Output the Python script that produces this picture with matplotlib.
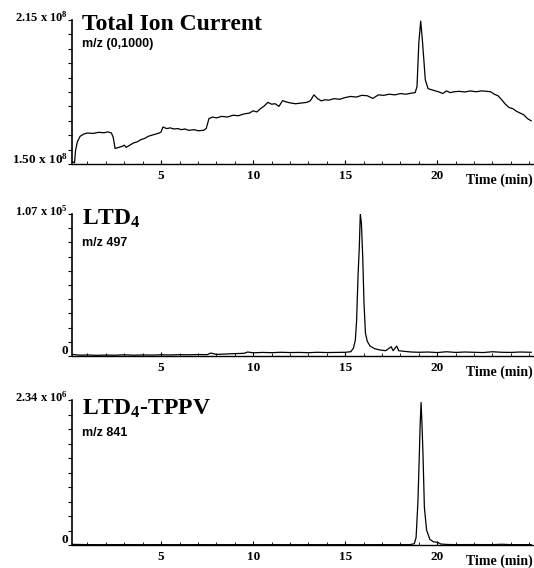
import matplotlib
matplotlib.use("Agg")
import matplotlib.pyplot as plt
from matplotlib.ticker import LinearLocator, MultipleLocator

plt.rcParams['mathtext.default'] = 'regular'

# ---------------- data ----------------
tic_t = [0.2, 0.3, 0.35, 0.45, 0.6, 0.8, 1.0, 1.3, 1.6, 1.9, 2.1, 2.3, 2.4, 2.5, 2.7, 2.9, 3.0,
         3.1, 3.3, 3.5, 3.7, 3.9, 4.1, 4.3, 4.5, 4.7, 4.9, 5.0, 5.1, 5.3, 5.5, 5.7, 5.9, 6.1,
         6.3, 6.5, 6.8, 7.0, 7.3, 7.45, 7.6, 7.8, 8.0, 8.3, 8.6, 8.9, 9.2, 9.5, 9.8, 10.0,
         10.2, 10.4, 10.6, 10.8, 11.0, 11.2, 11.4, 11.6, 11.8, 12.0, 12.3, 12.6, 12.9, 13.1,
         13.3, 13.5, 13.7, 13.9, 14.1, 14.4, 14.7, 15.0, 15.3, 15.6, 15.9, 16.2, 16.5, 16.8,
         17.1, 17.4, 17.7, 18.0, 18.3, 18.6, 18.8, 18.9, 19.0, 19.1, 19.2, 19.35, 19.5, 19.7,
         19.9, 20.1, 20.3, 20.5, 20.7, 20.9, 21.2, 21.5, 21.8, 22.1, 22.4, 22.7, 22.9, 23.1,
         23.3, 23.5, 23.7, 23.9, 24.1, 24.3, 24.5, 24.7, 24.9, 25.1]
tic_v = [1.51, 1.505, 1.56, 1.60, 1.625, 1.635, 1.640, 1.638, 1.643, 1.641, 1.645, 1.640,
         1.620, 1.570, 1.575, 1.580, 1.585, 1.575, 1.585, 1.595, 1.600, 1.610, 1.615, 1.625,
         1.630, 1.635, 1.640, 1.645, 1.667, 1.660, 1.663, 1.658, 1.660, 1.655, 1.658, 1.652,
         1.655, 1.650, 1.652, 1.660, 1.705, 1.712, 1.708, 1.715, 1.712, 1.720, 1.718, 1.726,
         1.730, 1.740, 1.735, 1.750, 1.762, 1.778, 1.770, 1.772, 1.760, 1.786, 1.780, 1.776,
         1.772, 1.775, 1.778, 1.785, 1.812, 1.795, 1.785, 1.790, 1.788, 1.795, 1.792, 1.800,
         1.805, 1.802, 1.810, 1.808, 1.796, 1.812, 1.810, 1.815, 1.812, 1.818, 1.815, 1.820,
         1.822, 1.850, 2.05, 2.145, 2.05, 1.88, 1.84, 1.835, 1.830, 1.825, 1.818, 1.830,
         1.822, 1.826, 1.828, 1.825, 1.830, 1.826, 1.830, 1.828, 1.826, 1.815, 1.808, 1.790,
         1.770, 1.755, 1.750, 1.738, 1.730, 1.722, 1.705, 1.695]

ltd4_t = [0.2, 0.6, 1.0, 1.5, 2.0, 2.5, 3.0, 3.5, 4.0, 4.5, 5.0, 5.5, 6.0, 6.5, 7.0, 7.5,
          7.7, 8.0, 8.5, 9.0, 9.5, 9.7, 10.0, 10.5, 11.0, 11.5, 12.0, 12.5, 13.0, 13.5, 14.0,
          14.5, 15.0, 15.3, 15.45, 15.55, 15.62, 15.7, 15.76, 15.82, 15.88, 15.95, 16.02,
          16.1, 16.2, 16.35, 16.6, 16.9, 17.2, 17.5, 17.6, 17.8, 17.9, 18.2, 18.6, 19.0,
          19.5, 20.0, 20.5, 21.0, 21.5, 22.0, 22.5, 23.0, 23.5, 24.0, 24.5, 25.1]
ltd4_v = [0.012, 0.006, 0.008, 0.005, 0.007, 0.006, 0.009, 0.006, 0.008, 0.007, 0.009,
          0.008, 0.010, 0.009, 0.011, 0.010, 0.022, 0.012, 0.015, 0.018, 0.020, 0.030, 0.024,
          0.027, 0.025, 0.028, 0.026, 0.027, 0.025, 0.028, 0.026, 0.027, 0.028, 0.032, 0.06,
          0.12, 0.27, 0.62, 0.80, 1.07, 1.00, 0.75, 0.40, 0.17, 0.11, 0.075, 0.055, 0.045,
          0.04, 0.07, 0.04, 0.075, 0.04, 0.035, 0.03, 0.028, 0.03, 0.026, 0.032, 0.027, 0.03,
          0.028, 0.026, 0.032, 0.028, 0.027, 0.03, 0.028]

tppv_t = [0.2, 1, 2, 3, 4, 5, 6, 7, 8, 9, 10, 11, 12, 13, 14, 15, 16, 17, 18, 18.5, 18.75,
          18.85, 18.95, 19.02, 19.07, 19.12, 19.17, 19.22, 19.3, 19.42, 19.6, 19.8, 20.0,
          20.2, 20.6, 21, 22, 23, 23.5, 24, 25.1]
tppv_v = [0.01, 0.006, 0.005, 0.007, 0.005, 0.006, 0.005, 0.006, 0.005, 0.006, 0.005,
          0.006, 0.005, 0.006, 0.005, 0.006, 0.005, 0.006, 0.005, 0.006, 0.02, 0.12, 0.7,
          1.40, 1.94, 2.30, 1.95, 1.51, 0.61, 0.24, 0.09, 0.05, 0.045, 0.015, 0.008, 0.006,
          0.007, 0.006, 0.012, 0.006, 0.006]

x_ticks = [5, 10, 15, 20]
panel_titles = ["Total Ion Current", "LTD$_4$", "LTD$_4$-TPPV"]
panel_mz = ["m/z (0,1000)", "m/z 497", "m/z 841"]
y_top_labels = ["2.15 x 10$^8$", "1.07 x 10$^5$", "2.34 x 10$^6$"]
y_bot_labels = ["1.50 x 10$^8$", "0", "0"]
y_ranges = [(1.50, 2.15), (0.0, 1.07), (0.0, 2.34)]

# ---------------- layout ----------------
W, H = 534, 568
fig = plt.figure(figsize=(W / 100, H / 100), dpi=100)

left_px, right_px = 72, 533
panels_px = [(20, 164), (214, 356), (400, 545)]
title_off = [10, 11, 15]
mz_off = [24, 29, 33]
series = [(tic_t, tic_v), (ltd4_t, ltd4_v), (tppv_t, tppv_v)]

serif = "Liberation Serif"
sans = "Liberation Sans"

for i, ((top, bot), (t, v)) in enumerate(zip(panels_px, series)):
    ax = fig.add_axes([left_px / W, 1 - bot / H, (right_px - left_px) / W, (bot - top) / H])
    ax.plot(t, v, color="black", lw=0.9)
    ax.set_xlim(0.16, 25.2)
    ax.set_ylim(*y_ranges[i])
    for s in ["top", "right"]:
        ax.spines[s].set_visible(False)
    ax.spines["left"].set_linewidth(1.2)
    ax.spines["bottom"].set_linewidth(1.0)
    ax.set_yticks([])
    ax.yaxis.set_minor_locator(LinearLocator(11))
    ax.tick_params(axis="y", which="minor", direction="out", length=3, width=0.8)
    ax.set_xticks(x_ticks)
    ax.set_xticklabels([str(x) for x in x_ticks], fontfamily=serif, fontweight="bold",
                       fontsize=9.5)
    ax.tick_params(axis="x", which="major", direction="in", length=3, width=0.8, pad=4)
    ax.xaxis.set_minor_locator(MultipleLocator(1))
    ax.tick_params(axis="x", which="minor", direction="in", length=2, width=0.6)

    # y extreme labels
    fig.text(68 / W, 1 - (top - 3) / H, y_top_labels[i], ha="right", va="center",
             fontfamily=serif, fontweight="bold", fontsize=9)
    fig.text(68 / W, 1 - (bot - 5) / H, y_bot_labels[i], ha="right", va="center",
             fontfamily=serif, fontweight="bold", fontsize=9.5)
    # titles
    fig.text(82 / W, 1 - (top + title_off[i]) / H, panel_titles[i], ha="left",
             va="baseline", fontfamily=serif, fontweight="bold", fontsize=17)
    fig.text(82 / W, 1 - (top + mz_off[i]) / H, panel_mz[i], ha="left", va="center",
             fontfamily=sans, fontweight="bold", fontsize=9)
    # axis label
    fig.text(533 / W, 1 - (bot + 16) / H, "Time (min)", ha="right", va="center",
             fontfamily=serif, fontweight="bold", fontsize=10)

fig.savefig("out.png", dpi=100)
